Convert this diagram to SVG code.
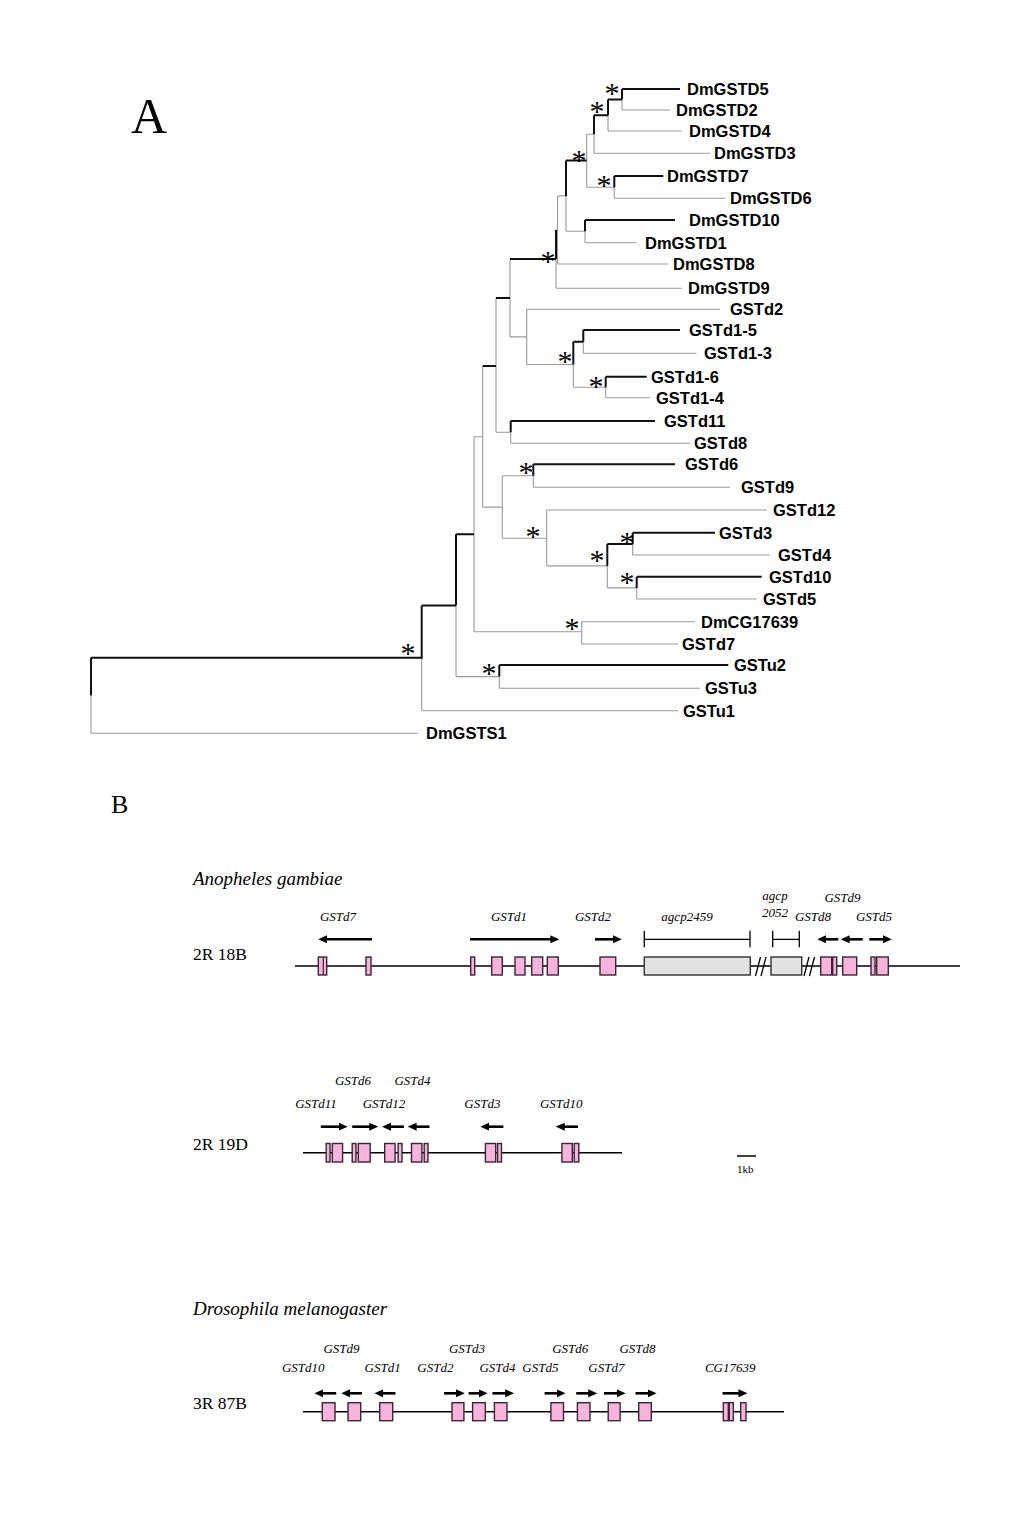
<svg xmlns="http://www.w3.org/2000/svg" width="1024" height="1536" viewBox="0 0 1024 1536">
<style>
.k{fill:none;stroke:#111;stroke-width:2}
.g{fill:none;stroke:#9a9a9a;stroke-width:1.1}
.lbl{font-family:"Liberation Sans",Arial,sans-serif;font-weight:bold;font-size:16.5px;fill:#000}
.st{font-family:"Liberation Serif","Times New Roman",serif;font-size:30px;fill:#000;text-anchor:middle}
.ser{font-family:"Liberation Serif","Times New Roman",serif;fill:#000}
.it{font-family:"Liberation Serif","Times New Roman",serif;font-style:italic;font-size:13px;fill:#000;text-anchor:middle}
.chr{stroke:#000;stroke-width:1.5;fill:none}
.ex{fill:#f6b4dc;stroke:#3a2636;stroke-width:1.4}
.gr{fill:#e2e2e2;stroke:#333;stroke-width:1.4}
.arr{stroke:#000;stroke-width:2.6;fill:none;marker-end:url(#ah)}
.br{stroke:#000;stroke-width:1.3;fill:none}
</style>
<defs>
<marker id="ah" viewBox="0 0 10 10" refX="5.5" refY="5" markerWidth="9" markerHeight="9" markerUnits="userSpaceOnUse" orient="auto"><path d="M0,0.5 L10,5 L0,9.5 z" fill="#000"/></marker>
</defs>
<rect width="1024" height="1536" fill="#fff"/>

<text class="ser" x="131" y="133" font-size="50">A</text>

<g id="connectors">
<path class="g" d="M91,733.3H418.3 M421.7,710.7H678.3 M456,676.6H499.3 M499.3,688.3H700 M474,436.7H482.7 M474,631.7H581.7 M581.7,621.7H695 M581.7,644H678.3 M482.7,507.1H502.3 M496,432.2H510.7 M510.7,443.3H690 M510,336.9H526.7 M526.7,309.3H720 M526.7,364.5H573.3 M573.3,387.2H605.7 M583.3,353.3H696.7 M605.7,397.7H650 M502.3,475.8H533.3 M533.3,487.3H730 M502.3,538.3H546.7 M546.7,510H766.7 M546.7,565.9H607.3 M632.7,555H770 M607.3,587.9H636.7 M636.7,599H756.7 M556,288.3H681.7 M557.5,264H668 M557.5,195.9H566 M566,231.3H585 M585,242.7H636.7 M586.7,134.3H594 M586.7,187.2H614.3 M614.3,198.3H725 M594,153.3H710 M608,131H681.7 M622,110H670 M556,229.9H557.5"/>
<path class="g" d="M91,695.5V733.3 M421.7,658.7V710.7 M456,605.5V676.6 M499.3,676.6V688.3 M474,436.7V631.7 M581.7,621.7V644 M482.7,366V507.1 M496,298V432.2 M510.7,432.2V443.3 M510,259.1V336.9 M526.7,309.3V364.5 M573.3,364.5V387.2 M583.3,341.7V353.3 M605.7,387.2V397.7 M502.3,475.8V538.3 M533.3,475.8V487.3 M546.7,510V565.9 M607.3,565.9V587.9 M632.7,543.9V555 M636.7,587.9V599 M556,259.1V288.3 M557.5,195.9V264 M566,195.9V231.3 M585,231.3V242.7 M586.7,134.3V187.2 M614.3,187.2V198.3 M594,134.3V153.3 M608,115.3V131 M622,99.5V110"/>
<path class="k" d="M91,657.7H421.7 M421.7,605.5H456 M456,534.3H474 M499.3,665H728.3 M482.7,366H496 M496,298H510 M510.7,421H655 M510,259.1H556 M573.3,341.7H583.3 M583.3,330H680 M605.7,376.7H646.7 M533.3,464.3H675 M607.3,543.9H632.7 M632.7,532.7H715 M636.7,576.7H761.7 M566,160.5H586.7 M585,220H675 M614.3,176H663.3 M594,115.3H608 M608,99.5H622 M622,89H680"/>
<path class="k" d="M91,657.7V695.5 M421.7,605.5V658.7 M456,534.3V605.5 M499.3,665V676.6 M510.7,421V432.2 M573.3,341.7V364.5 M583.3,330V341.7 M605.7,376.7V387.2 M533.3,464.3V475.8 M607.3,543.9V565.9 M632.7,532.7V543.9 M636.7,576.7V587.9 M556,229.9V259.1 M566,160.5V195.9 M585,220V231.3 M614.3,176V187.2 M594,115.3V134.3 M608,99.5V115.3 M622,89V99.5"/>
</g>

<g id="support">
<text class="st" x="612" y="103">*</text>
<text class="st" x="597" y="121">*</text>
<text class="st" x="579" y="170">*</text>
<text class="st" x="604" y="195">*</text>
<text class="st" x="548" y="271">*</text>
<text class="st" x="565" y="371">*</text>
<text class="st" x="596" y="396">*</text>
<text class="st" x="526" y="482">*</text>
<text class="st" x="533" y="546">*</text>
<text class="st" x="627" y="552">*</text>
<text class="st" x="597" y="570">*</text>
<text class="st" x="627" y="592">*</text>
<text class="st" x="572" y="638">*</text>
<text class="st" x="489" y="683">*</text>
<text class="st" x="408" y="663">*</text>
</g>

<g id="leaf-DmGSTD5"><text class="lbl" x="687" y="95">DmGSTD5</text></g>
<g id="leaf-DmGSTD2"><text class="lbl" x="676" y="116">DmGSTD2</text></g>
<g id="leaf-DmGSTD4"><text class="lbl" x="689" y="137">DmGSTD4</text></g>
<g id="leaf-DmGSTD3"><text class="lbl" x="714" y="159">DmGSTD3</text></g>
<g id="leaf-DmGSTD7"><text class="lbl" x="667" y="182">DmGSTD7</text></g>
<g id="leaf-DmGSTD6"><text class="lbl" x="730" y="204">DmGSTD6</text></g>
<g id="leaf-DmGSTD10"><text class="lbl" x="689" y="226">DmGSTD10</text></g>
<g id="leaf-DmGSTD1"><text class="lbl" x="645" y="249">DmGSTD1</text></g>
<g id="leaf-DmGSTD8"><text class="lbl" x="673" y="270">DmGSTD8</text></g>
<g id="leaf-DmGSTD9"><text class="lbl" x="688" y="294">DmGSTD9</text></g>
<g id="leaf-GSTd2"><text class="lbl" x="730" y="315">GSTd2</text></g>
<g id="leaf-GSTd1-5"><text class="lbl" x="689" y="336">GSTd1-5</text></g>
<g id="leaf-GSTd1-3"><text class="lbl" x="704" y="359">GSTd1-3</text></g>
<g id="leaf-GSTd1-6"><text class="lbl" x="651" y="383">GSTd1-6</text></g>
<g id="leaf-GSTd1-4"><text class="lbl" x="656" y="404">GSTd1-4</text></g>
<g id="leaf-GSTd11"><text class="lbl" x="664" y="427">GSTd11</text></g>
<g id="leaf-GSTd8"><text class="lbl" x="694" y="449">GSTd8</text></g>
<g id="leaf-GSTd6"><text class="lbl" x="685" y="470">GSTd6</text></g>
<g id="leaf-GSTd9"><text class="lbl" x="741" y="493">GSTd9</text></g>
<g id="leaf-GSTd12"><text class="lbl" x="773" y="516">GSTd12</text></g>
<g id="leaf-GSTd3"><text class="lbl" x="719" y="539">GSTd3</text></g>
<g id="leaf-GSTd4"><text class="lbl" x="778" y="561">GSTd4</text></g>
<g id="leaf-GSTd10"><text class="lbl" x="769" y="583">GSTd10</text></g>
<g id="leaf-GSTd5"><text class="lbl" x="763" y="605">GSTd5</text></g>
<g id="leaf-DmCG17639"><text class="lbl" x="701" y="628">DmCG17639</text></g>
<g id="leaf-GSTd7"><text class="lbl" x="682" y="650">GSTd7</text></g>
<g id="leaf-GSTu2"><text class="lbl" x="734" y="671">GSTu2</text></g>
<g id="leaf-GSTu3"><text class="lbl" x="705" y="694">GSTu3</text></g>
<g id="leaf-GSTu1"><text class="lbl" x="683" y="717">GSTu1</text></g>
<g id="leaf-DmGSTS1"><text class="lbl" x="426" y="739">DmGSTS1</text></g>

<text class="ser" x="111" y="813" font-size="26">B</text>

<g id="track-2R18B">
<text class="ser" x="193" y="885" font-size="19" font-style="italic">Anopheles gambiae</text>
<text class="ser" x="193" y="960" font-size="17.5">2R 18B</text>
<line class="chr" x1="295" y1="966" x2="960" y2="966"/>
<g id="g-ag-GSTd7">
<text class="it" x="338" y="921">GSTd7</text>
<line class="arr" x1="372" y1="939.3" x2="322.3" y2="939.3"/>
<rect class="ex" x="318.3" y="957" width="8.4" height="18"/><line x1="323.3" y1="957" x2="323.3" y2="975" stroke="#3a2636" stroke-width="1.2"/>
<rect class="ex" x="366" y="957" width="5" height="18"/>
</g>
<g id="g-ag-GSTd1">
<text class="it" x="509" y="921">GSTd1</text>
<line class="arr" x1="470" y1="939.3" x2="555.3" y2="939.3"/>
<rect class="ex" x="470.7" y="957" width="4" height="18"/>
<rect class="ex" x="491.7" y="957" width="10.6" height="18"/>
<rect class="ex" x="515" y="957" width="10" height="18"/>
<rect class="ex" x="531.7" y="957" width="11" height="18"/>
<rect class="ex" x="547.3" y="957" width="11" height="18"/>
</g>
<g id="g-ag-GSTd2">
<text class="it" x="593" y="921">GSTd2</text>
<line class="arr" x1="595" y1="939.3" x2="617.7" y2="939.3"/>
<rect class="ex" x="600" y="957" width="15.7" height="18"/>
</g>
<g id="g-agcp2459">
<text class="it" x="687" y="921">agcp2459</text>
<path class="br" d="M644.3,930.7V947.3 M644.3,939.3H750 M750,930.7V947.3"/>
<rect class="gr" x="644.3" y="957" width="106" height="18"/>
</g>
<path class="br" d="M755.5,976L760.5,957 M761,976L766,957"/>
<g id="g-agcp2052">
<text class="it" x="775" y="900">agcp</text>
<text class="it" x="775" y="917">2052</text>
<path class="br" d="M772.7,930.7V947.3 M772.7,939.3H799.3 M799.3,930.7V947.3"/>
<rect class="gr" x="771" y="957" width="30.7" height="18"/>
</g>
<path class="br" d="M804,976L809,957 M809.5,976L814.5,957"/>
<g id="g-ag-GSTd8">
<text class="it" x="813" y="921">GSTd8</text>
<line class="arr" x1="838.3" y1="939.3" x2="821.3" y2="939.3"/>
<rect class="ex" x="820.7" y="957" width="11" height="18"/>
<rect class="ex" x="832.7" y="957" width="4" height="18"/>
</g>
<g id="g-ag-GSTd9">
<text class="it" x="842.5" y="901.5">GSTd9</text>
<line class="arr" x1="862.7" y1="939.3" x2="844.7" y2="939.3"/>
<rect class="ex" x="842.7" y="957" width="14" height="18"/>
</g>
<g id="g-ag-GSTd5">
<text class="it" x="874" y="921">GSTd5</text>
<line class="arr" x1="869.3" y1="939.3" x2="887.7" y2="939.3"/>
<rect class="ex" x="871" y="957" width="4" height="18"/>
<rect class="ex" x="876.7" y="957" width="11.6" height="18"/>
</g>
</g>

<g id="track-2R19D">
<text class="ser" x="193" y="1150" font-size="17.5">2R 19D</text>
<line class="chr" x1="303" y1="1152.7" x2="622" y2="1152.7"/>
<text class="it" x="353" y="1085">GSTd6</text>
<text class="it" x="412.5" y="1085">GSTd4</text>
<text class="it" x="316" y="1108.3">GSTd11</text>
<text class="it" x="384" y="1108.3">GSTd12</text>
<text class="it" x="482.4" y="1108.3">GSTd3</text>
<text class="it" x="561.2" y="1108.3">GSTd10</text>
<g id="g-ag2-arrows">
<line class="arr" x1="320.8" y1="1126.7" x2="343.6" y2="1126.7"/>
<line class="arr" x1="352.2" y1="1126.7" x2="374.2" y2="1126.7"/>
<line class="arr" x1="403.9" y1="1126.7" x2="386.1" y2="1126.7"/>
<line class="arr" x1="429.5" y1="1126.7" x2="411.7" y2="1126.7"/>
<line class="arr" x1="503.4" y1="1126.7" x2="484.4" y2="1126.7"/>
<line class="arr" x1="578" y1="1126.7" x2="559.8" y2="1126.7"/>
</g>
<g id="g-ag2-exons">
<rect class="ex" x="326.2" y="1143.5" width="3.8" height="18.5"/>
<rect class="ex" x="332.3" y="1143.5" width="10.3" height="18.5"/>
<rect class="ex" x="352.2" y="1143.5" width="3.8" height="18.5"/>
<rect class="ex" x="358.3" y="1143.5" width="11.9" height="18.5"/>
<rect class="ex" x="384.7" y="1143.5" width="10.4" height="18.5"/>
<rect class="ex" x="398.1" y="1143.5" width="3.9" height="18.5"/>
<rect class="ex" x="411.5" y="1143.5" width="10.4" height="18.5"/>
<rect class="ex" x="424.2" y="1143.5" width="3.8" height="18.5"/>
<rect class="ex" x="485.4" y="1143.5" width="10.3" height="18.5"/>
<rect class="ex" x="497.6" y="1143.5" width="3.9" height="18.5"/>
<rect class="ex" x="561.9" y="1143.5" width="10.4" height="18.5"/>
<rect class="ex" x="574.2" y="1143.5" width="4.6" height="18.5"/>
</g>
<g id="scale">
<line x1="737" y1="1156" x2="756" y2="1156" stroke="#000" stroke-width="1.5"/>
<text class="ser" x="737" y="1173" font-size="11">1kb</text>
</g>
</g>

<g id="track-3R87B">
<text class="ser" x="193" y="1315" font-size="19" font-style="italic">Drosophila melanogaster</text>
<text class="ser" x="193" y="1409" font-size="17.5">3R 87B</text>
<line class="chr" x1="303" y1="1411.7" x2="784" y2="1411.7"/>
<text class="it" x="341.5" y="1353.3">GSTd9</text>
<text class="it" x="467" y="1353.3">GSTd3</text>
<text class="it" x="570.3" y="1353.3">GSTd6</text>
<text class="it" x="637.5" y="1353.3">GSTd8</text>
<text class="it" x="303.2" y="1371.7">GSTd10</text>
<text class="it" x="382.6" y="1371.7">GSTd1</text>
<text class="it" x="435.4" y="1371.7">GSTd2</text>
<text class="it" x="497.5" y="1371.7">GSTd4</text>
<text class="it" x="540.4" y="1371.7">GSTd5</text>
<text class="it" x="606.4" y="1371.7">GSTd7</text>
<text class="it" x="730.2" y="1371.7">CG17639</text>
<g id="g-dm-arrows">
<line class="arr" x1="336.2" y1="1393.3" x2="318.4" y2="1393.3"/>
<line class="arr" x1="361.9" y1="1393.3" x2="345.3" y2="1393.3"/>
<line class="arr" x1="395.5" y1="1393.3" x2="378.5" y2="1393.3"/>
<line class="arr" x1="444.1" y1="1393.3" x2="460.7" y2="1393.3"/>
<line class="arr" x1="468.6" y1="1393.3" x2="483.6" y2="1393.3"/>
<line class="arr" x1="492.4" y1="1393.3" x2="510.1" y2="1393.3"/>
<line class="arr" x1="544.6" y1="1393.3" x2="561.5" y2="1393.3"/>
<line class="arr" x1="576.2" y1="1393.3" x2="593.2" y2="1393.3"/>
<line class="arr" x1="603.9" y1="1393.3" x2="621.6" y2="1393.3"/>
<line class="arr" x1="635.5" y1="1393.3" x2="652.5" y2="1393.3"/>
<line class="arr" x1="722.5" y1="1393.3" x2="743.4" y2="1393.3"/>
</g>
<g id="g-dm-exons">
<rect class="ex" x="322.3" y="1402.7" width="12.7" height="18"/>
<rect class="ex" x="348" y="1402.7" width="12.7" height="18"/>
<rect class="ex" x="379.7" y="1402.7" width="13" height="18"/>
<rect class="ex" x="452" y="1402.7" width="11.9" height="18"/>
<rect class="ex" x="472.6" y="1402.7" width="12.7" height="18"/>
<rect class="ex" x="494.4" y="1402.7" width="12.6" height="18"/>
<rect class="ex" x="550.9" y="1402.7" width="12.6" height="18"/>
<rect class="ex" x="577.4" y="1402.7" width="12.6" height="18"/>
<rect class="ex" x="608.2" y="1402.7" width="11.9" height="18"/>
<rect class="ex" x="638.7" y="1402.7" width="12.6" height="18"/>
<rect class="ex" x="723.3" y="1402.7" width="5" height="18"/>
<rect class="ex" x="729.3" y="1402.7" width="4" height="18"/>
<rect class="ex" x="740.7" y="1402.7" width="5.3" height="18"/>
</g>
</g>
</svg>
